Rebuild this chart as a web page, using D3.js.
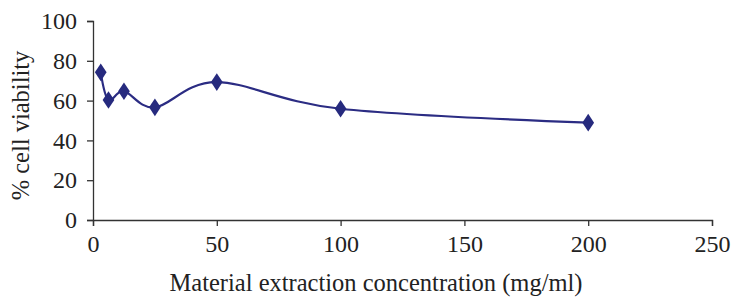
<!DOCTYPE html>
<html>
<head>
<meta charset="utf-8">
<script src="https://cdn.jsdelivr.net/npm/d3@7"></script>
<style>
  body { margin: 0; background: #fff; }
  text { font-family: "Liberation Serif", "Times New Roman", serif; fill: #222; }
  .axis path, .axis line { stroke: #333; stroke-width: 1.3; }
  .axis text { font-size: 24px; }
</style>
</head>
<body>
<div id="chart"></div>
<script>
  const concentrations = [3.125, 6.25, 12.5, 25, 50, 100, 200];
  const viability = [74.2, 60.3, 64.7, 56.6, 69.3, 55.9, 48.9];
  const xTicks = [0, 50, 100, 150, 200, 250];
  const yTicks = [0, 20, 40, 60, 80, 100];

  const W = 731, H = 299;
  const margin = { top: 21, right: 19, bottom: 79, left: 93 };

  const x = d3.scaleLinear().domain([0, 250]).range([margin.left, W - margin.right]);
  const y = d3.scaleLinear().domain([0, 100]).range([H - margin.bottom, margin.top]);

  const svg = d3.select('#chart')
    .append('svg')
      .attr('width', W)
      .attr('height', H);

  svg.append('g')
    .attr('class', 'x axis')
    .attr('transform', `translate(0, ${y(0)})`)
    .call(d3.axisBottom(x).tickValues(xTicks).tickSize(6).tickSizeOuter(6).tickPadding(7))
    .call(g => g.selectAll('text').attr('dy', '0.8em'));

  svg.append('g')
    .attr('class', 'y axis')
    .attr('transform', `translate(${x(0)}, 0)`)
    .call(d3.axisLeft(y).tickValues(yTicks).tickSize(6).tickSizeOuter(6).tickPadding(10));

  // title sits a bit left of the axis centre in the original
  svg.append('text')
    .attr('x', 376)
    .attr('y', 291)
    .style('text-anchor', 'middle')
    .style('font-size', '24.5px')
    .text('Material extraction concentration (mg/ml)');

  svg.append('text')
    .attr('transform', `translate(29, ${(y(0) + y(100)) / 2 + 5}) rotate(-90)`)
    .style('text-anchor', 'middle')
    .style('font-size', '24.5px')
    .text('% cell viability');

  const points = concentrations.map((c, i) => ({ c, v: viability[i] }));

  const line = d3.line()
    .curve(d3.curveCardinal.tension(0))
    .x(d => x(d.c))
    .y(d => y(d.v));

  svg.append('path')
    .datum(points)
    .attr('fill', 'none')
    .attr('stroke', '#2b2c83')
    .attr('stroke-width', 2.2)
    .attr('d', line);

  svg.selectAll('.dot')
    .data(points)
    .enter().append('path')
      .attr('class', 'dot')
      .attr('d', d3.symbol(d3.symbolDiamond, 90))
      .attr('transform', d => `translate(${x(d.c)}, ${y(d.v)}) scale(1.15, 1)`)
      .attr('fill', '#262a7e');
</script>
</body>
</html>
